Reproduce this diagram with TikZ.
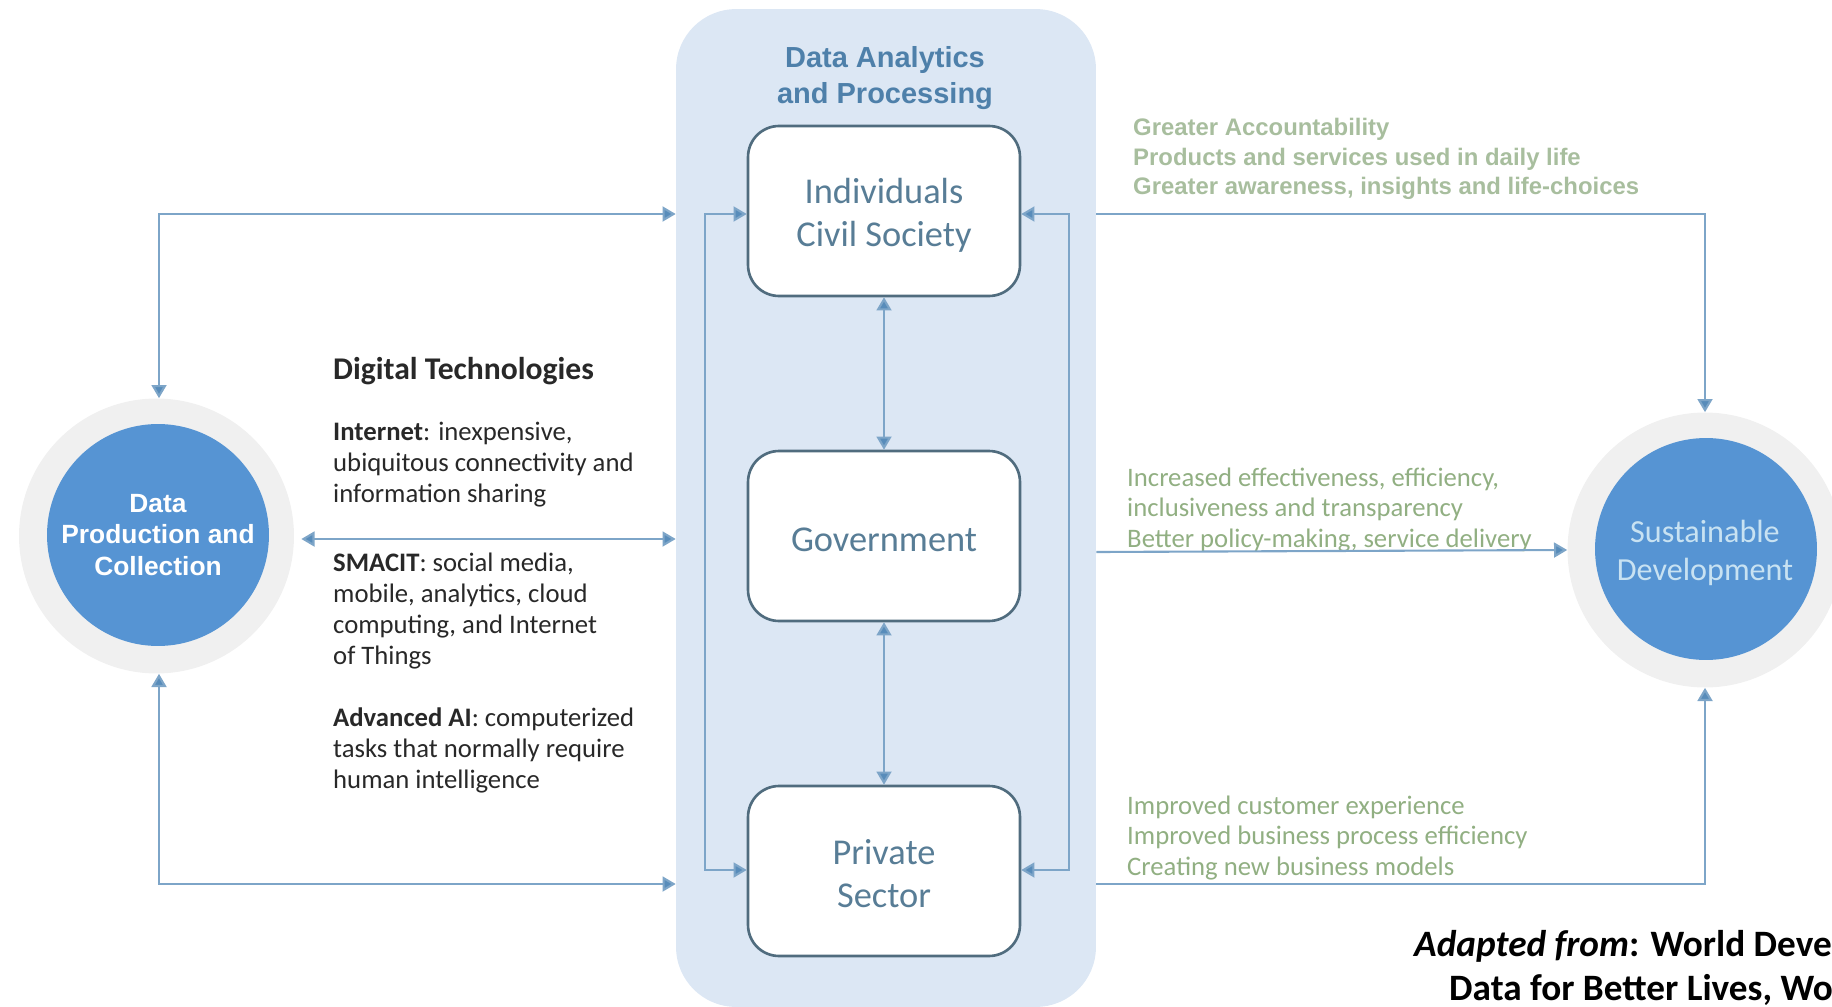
\documentclass[tikz,border=0pt]{standalone}
\usepackage{fontspec}
\setmainfont{Carlito}
\newfontfamily\arialfont{Liberation Sans}
\usetikzlibrary{arrows.meta}
\definecolor{panelblue}{RGB}{220, 231, 244}
\definecolor{circleblue}{RGB}{86, 148, 211}
\definecolor{ringgrey}{RGB}{240, 240, 240}
\definecolor{linkblue}{RGB}{125, 165, 200}
\definecolor{tipblue}{RGB}{88, 140, 186}
\definecolor{boxedge}{RGB}{80, 108, 126}
\definecolor{boxtext}{RGB}{88, 125, 150}
\definecolor{titleblue}{RGB}{78, 128, 170}
\definecolor{sagegreen}{RGB}{168, 190, 158}
\definecolor{softgreen}{RGB}{145, 175, 130}
\definecolor{lightblue}{RGB}{200, 226, 242}
\definecolor{darktext}{RGB}{40, 40, 40}
\def\boxw{5.44cm}
\def\boxh{3.40cm}
\def\ringd{5.50cm}
\def\discd{4.44cm}

\tikzset{
    flow/.style={draw=linkblue, line width=1.2pt, {Triangle[length=7.5pt, width=8.5pt, fill=tipblue]}-{Triangle[length=7.5pt, width=8.5pt, fill=tipblue]}},
    flowto/.style={draw=linkblue, line width=1.2pt, -{Triangle[length=7.5pt, width=8.5pt, fill=tipblue]}},
    actor/.style={draw=boxedge, fill=white, line width=1.5pt, rounded corners=0.62cm, minimum width=\boxw, minimum height=\boxh},
    actorlabel/.style={align=center, text=boxtext, font=\fontsize{20.7}{24.6}\selectfont},
    ring/.style={circle, fill=ringgrey, minimum size=\ringd, inner sep=0pt},
    disc/.style={circle, fill=circleblue, minimum size=\discd, inner sep=0pt, align=center},
    gains/.style={anchor=west, align=left, text=softgreen, font=\fontsize{15.2}{17.6}\selectfont},
    techtext/.style={anchor=west, align=left, text=darktext, font=\fontsize{15.2}{17.6}\selectfont}
}

\begin{document}
\begin{tikzpicture}[x=0.02cm, y=-0.02cm]

         \useasboundingbox (0,0) rectangle (1832,1007);

         \node[rectangle, fill=panelblue, rounded corners=1.2cm, minimum width=8.4cm, minimum height=19.96cm] (panel) at (886,508) {};

         \node[align=center, text=titleblue, font=\arialfont\bfseries\fontsize{16.5}{20}\selectfont] (paneltitle) at (885,78) {Data Analytics\\and Processing};

         \node[actor] (civil) at (884,211) {};
         \node[actor] (gov) at (884,536) {};
         \node[actor] (private) at (884,871) {};
         \node[actorlabel] (civillabel) at (884,215) {Individuals\\Civil Society};
         \node[actorlabel] (govlabel) at (884,540) {Government};
         \node[actorlabel] (privatelabel) at (884,874) {Private\\Sector};

         \node[ring] (dpcring) at (156.5,536) {};
         \node[disc, text=white, font=\arialfont\bfseries\fontsize{15}{18}\selectfont] (dpc) at (158,535) {Data\\Production and\\Collection};

         \node[ring] (sdring) at (1705,550) {};
         \node[disc] (sd) at (1706,549) {};
         \node[align=center, text=lightblue, font=\fontsize{18.3}{21.7}\selectfont] (sdlabel) at (1705,553) {Sustainable\\Development};

         \node[anchor=west, text=darktext, font=\bfseries\fontsize{18}{20}\selectfont] (techtitle) at (327,371) {Digital Technologies};
         \node[techtext] (internet) at (327,465) {\textbf{Internet}: inexpensive,\\ubiquitous connectivity and\\information sharing};
         \node[techtext] (smacit) at (327,611) {\textbf{SMACIT}: social media,\\mobile, analytics, cloud\\computing, and Internet\\of Things};
         \node[techtext] (advai) at (327,750) {\textbf{Advanced AI}: computerized\\tasks that normally require\\human intelligence};

         \node[gains, text=sagegreen, font=\arialfont\bfseries\fontsize{13.6}{16.6}\selectfont] (civilgains) at (1127,159) {Greater Accountability\\Products and services used in daily life\\Greater awareness, insights and life-choices};
         \node[gains] (govgains) at (1121,510) {Increased effectiveness, efficiency,\\inclusiveness and transparency\\Better policy-making, service delivery};
         \node[gains] (privategains) at (1121,838) {Improved customer experience\\Improved business process efficiency\\Creating new business models};

         \node[anchor=west, text=black, font=\bfseries\fontsize{21.2}{25}\selectfont] (adapted) at (1408,946) {\textit{Adapted from}: World Deve};
         \node[anchor=west, text=black, font=\bfseries\fontsize{21.2}{25}\selectfont] (source) at (1443,990) {Data for Better Lives, Wo};

         \coordinate (toprow) at (0,214);
         \coordinate (midrow) at (0,539);
         \coordinate (lowrow) at (0,884);
         \coordinate (busrow) at (0,870);
         \coordinate (govrow) at (0,552);
         \coordinate (leftdrop) at (159,0);
         \coordinate (leftbus) at (705,0);
         \coordinate (rightbus) at (1069,0);

         \draw[flow] (leftdrop |- dpcring.north) |- (panel.west |- toprow);
         \draw[flow] (leftdrop |- dpcring.south) |- (panel.west |- lowrow);
         \draw[flow, shorten <=4pt] (dpcring.east |- midrow) -- (panel.west |- midrow);

         \draw[flow] (civil.west |- toprow) -- (leftbus |- toprow) -- (leftbus |- busrow) -- (private.west |- busrow);
         \draw[flow] (civil.east |- toprow) -- (rightbus |- toprow) -- (rightbus |- busrow) -- (private.east |- busrow);

         \draw[flow] (civil.south) -- (gov.north);
         \draw[flow] (gov.south) -- (private.north);

         \draw[flowto] (panel.east |- toprow) -| (sdring.north);
         \draw[flowto] (panel.east |- govrow) -- (sdring.west);
         \draw[flowto] (panel.east |- lowrow) -| (sdring.south);

\end{tikzpicture}
\end{document}
